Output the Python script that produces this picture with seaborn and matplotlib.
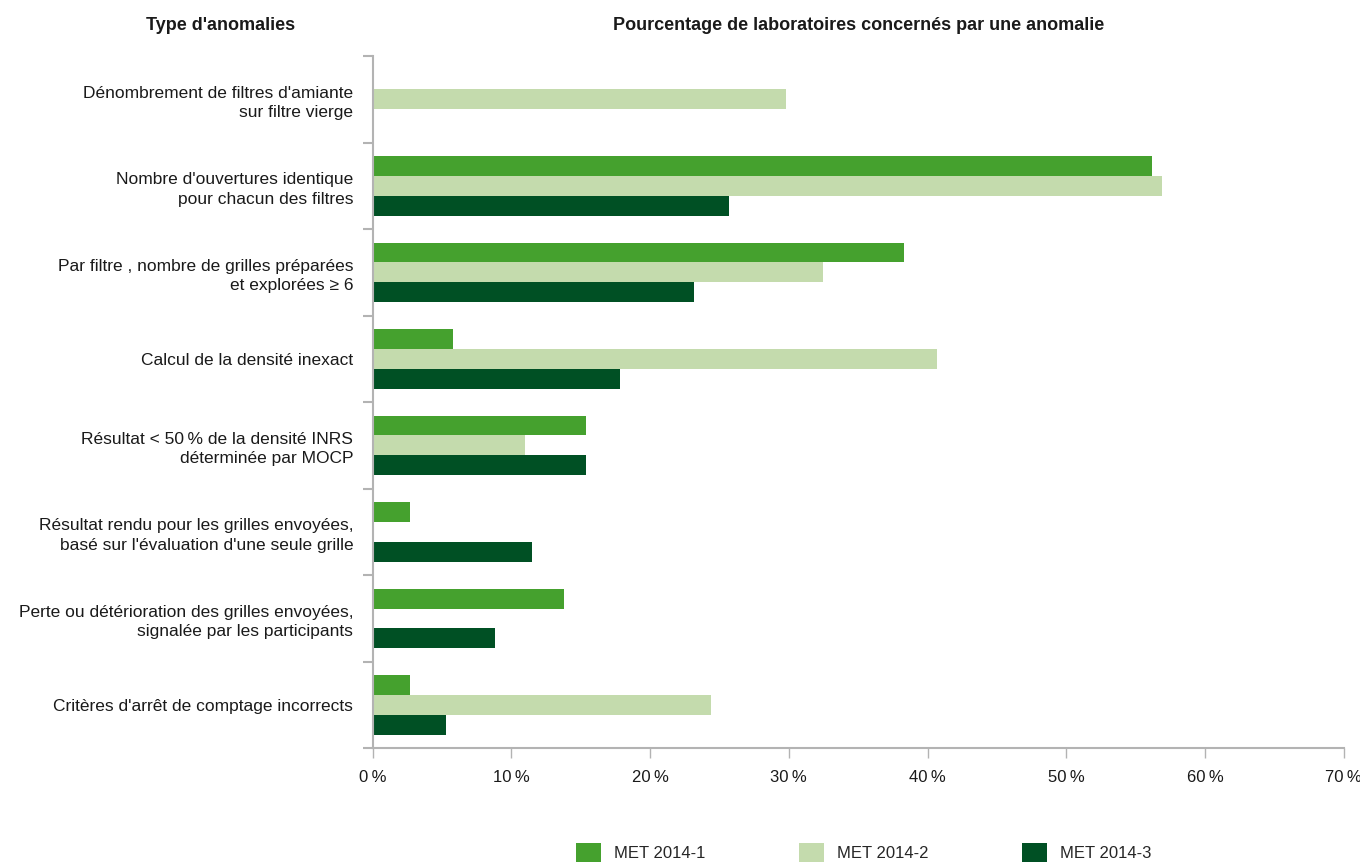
import matplotlib
matplotlib.use("Agg")
import matplotlib.pyplot as plt
import seaborn as sns
import numpy as np
import pandas as pd
from matplotlib.ticker import FuncFormatter, FixedLocator

# Data (% of laboratories)
categories = [
    "Dénombrement de filtres d'amiante\nsur filtre vierge",
    "Nombre d'ouvertures identique\npour chacun des filtres",
    "Par filtre , nombre de grilles préparées\net explorées ≥ 6",
    "Calcul de la densité inexact",
    "Résultat < 50\u2009% de la densité INRS\ndéterminée par MOCP",
    "Résultat rendu pour les grilles envoyées,\nbasé sur l'évaluation d'une seule grille",
    "Perte ou détérioration des grilles envoyées,\nsignalée par les participants",
    "Critères d'arrêt de comptage incorrects",
]
series = ["MET 2014-1", "MET 2014-2", "MET 2014-3"]
met_2014_1 = [0.0, 56.2, 38.3, 5.8, 15.4, 2.7, 13.8, 2.7]
met_2014_2 = [29.8, 56.9, 32.5, 40.7, 11.0, 0.0, 0.0, 24.4]
met_2014_3 = [0.0, 25.7, 23.2, 17.8, 15.4, 11.5, 8.8, 5.3]
colors = ["#45a12e", "#c4dbad", "#005024"]

df = pd.DataFrame({
    "Type": categories * 3,
    "Pct": met_2014_1 + met_2014_2 + met_2014_3,
    "Campagne": [series[0]] * 8 + [series[1]] * 8 + [series[2]] * 8,
})

sns.set_theme(style="white")
plt.rcParams["font.family"] = ["Liberation Sans", "DejaVu Sans"]

fig = plt.figure(figsize=(13.6, 8.64), dpi=100)
ax = fig.add_axes([0.274, 0.134, 0.714, 0.801])

sns.barplot(data=df, y="Type", x="Pct", hue="Campagne", order=categories,
            hue_order=series, palette=colors, orient="h", width=0.69,
            linewidth=0, saturation=1, ax=ax, legend=True)

ax.set_xlim(0, 70)
ax.set_ylim(len(categories) - 0.5, -0.5)
ax.set_xticks(np.arange(0, 71, 10))
ax.xaxis.set_major_formatter(FuncFormatter(lambda v, p: f"{int(v)}\u2009%"))
ax.set_xlabel("")
ax.set_ylabel("")

for s in ["top", "right"]:
    ax.spines[s].set_visible(False)
for s in ["left", "bottom"]:
    ax.spines[s].set_color("#b3b3b3")
    ax.spines[s].set_linewidth(1.5)

ax.tick_params(axis="x", bottom=True, direction="out", length=7, width=1,
               color="#b3b3b3", labelsize=12, labelcolor="#1a1a1a", pad=9)
ax.tick_params(axis="y", which="major", left=True, length=0, labelsize=12.5,
               labelcolor="#1a1a1a", pad=14)
ax.yaxis.set_minor_locator(FixedLocator(np.arange(-0.5, len(categories), 1)))
ax.tick_params(axis="y", which="minor", left=True, direction="out", length=7,
               width=1.5, color="#b3b3b3")
for lab in ax.get_yticklabels():
    lab.set_horizontalalignment("right")
    lab.set_multialignment("right")
    lab.set_linespacing(1.35)

fig.text(0.162, 0.970, "Type d'anomalies", ha="center", va="center",
         fontsize=13, fontweight="bold", color="#1a1a1a")
fig.text(0.631, 0.970, "Pourcentage de laboratoires concernés par une anomalie",
         ha="center", va="center", fontsize=13, fontweight="bold",
         color="#1a1a1a")

handles, labels = ax.get_legend_handles_labels()
ax.get_legend().remove()
fig.legend(handles, labels, loc="lower center", bbox_to_anchor=(0.635, -0.015),
           ncol=3, frameon=False, fontsize=12, handlelength=1.5,
           handleheight=1.4, columnspacing=5.6, handletextpad=0.8)

fig.savefig("out.png", dpi=100)
